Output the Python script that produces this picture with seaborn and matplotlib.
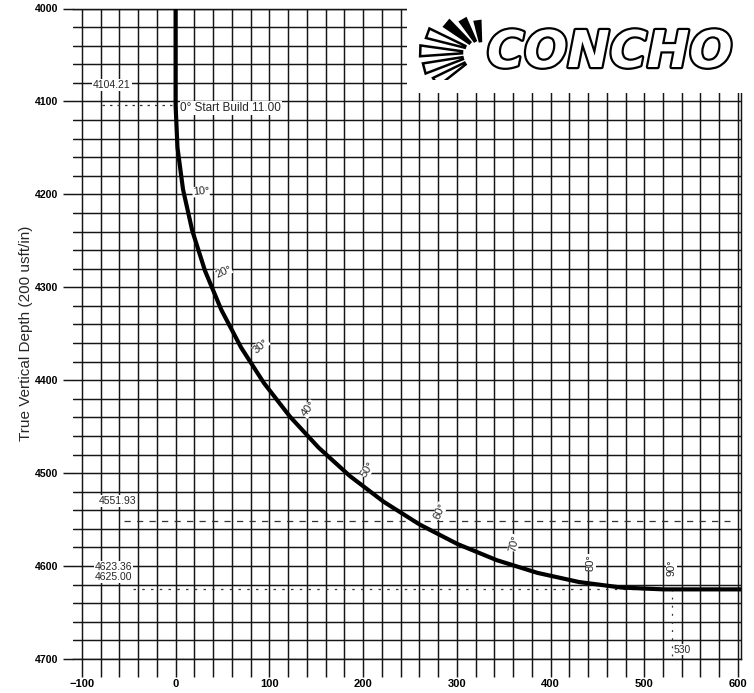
import numpy as np
import pandas as pd
import matplotlib
matplotlib.use("Agg")
import matplotlib.pyplot as plt
import matplotlib.patheffects as pe
from matplotlib.patches import Rectangle, Polygon
from matplotlib.ticker import MultipleLocator
import seaborn as sns

# ---------------- data ----------------
vsect = [0, 0, 1.98, 7.91, 17.75, 31.41, 48.80, 69.78, 94.19, 121.86, 152.56,
         186.06, 222.11, 260.43, 300.74, 342.72, 386.06, 430.42, 475.48, 520.87, 603]
tvd = [4000, 4104.21, 4149.61, 4194.66, 4239.02, 4282.36, 4324.34, 4364.65, 4402.97,
       4439.02, 4472.52, 4503.22, 4530.88, 4555.30, 4576.28, 4593.67, 4607.32,
       4617.17, 4623.10, 4625.08, 4625.08]

inc_labels = ["10°", "20°", "30°", "40°", "50°", "60°", "70°", "80°", "90°"]
inc_x = [27, 51, 91, 142, 205, 282, 361, 443, 529]
inc_y = [4197, 4283, 4363, 4431, 4496, 4541, 4575, 4596, 4602]
inc_rot = [5, 25, 42, 52, 58, 68, 78, 90, 90]

x_ticks = [-100, 0, 100, 200, 300, 400, 500, 600]
y_ticks = [4000, 4100, 4200, 4300, 4400, 4500, 4600, 4700]

kop_tvd = 4104.21
tgt_tvd = 4551.93
land_tvd = 4625.00
land_x = 530

df = pd.DataFrame({"vs": vsect, "tvd": tvd})

# ---------------- figure ----------------
sns.set_theme(style="white")
plt.rcParams["font.family"] = ["Liberation Sans", "DejaVu Sans"]

W, H = 754, 693
fig = plt.figure(figsize=(W / 100, H / 100), dpi=100)
fig.patch.set_facecolor("white")

left_px, right_px, top_px, bot_px = 72.5, 740.8, 8.5, 659
ax = fig.add_axes([left_px / W, 1 - bot_px / H, (right_px - left_px) / W,
                   (bot_px - top_px) / H])
ax.set_facecolor("white")
ax.set_xlim(-110, 603)
ax.set_ylim(4700, 4000)

gcol = "#151515"
ax.xaxis.set_minor_locator(MultipleLocator(20))
ax.yaxis.set_minor_locator(MultipleLocator(20))
ax.set_xticks(x_ticks)
ax.set_yticks(y_ticks)
ax.grid(which="both", color=gcol, lw=1.05)
ax.set_axisbelow(True)
ax.tick_params(axis="x", which="both", direction="out", length=13, width=1.05,
               color=gcol, pad=1.5, labelsize=8, labelcolor="black",
               bottom=True)
ax.tick_params(axis="y", which="major", direction="out", length=7.5, width=1.05,
               color=gcol, pad=2.5, labelsize=7.6, labelcolor="black", left=True)
ax.tick_params(axis="y", which="minor", length=0)
for lab in ax.get_xticklabels() + ax.get_yticklabels():
    lab.set_fontweight("bold")
for s in ["top", "right", "bottom"]:
    ax.spines[s].set_visible(True)
    ax.spines[s].set_color(gcol)
    ax.spines[s].set_linewidth(1.05)
ax.spines["left"].set_visible(False)

# reference lines
ax.plot([-78, 0], [kop_tvd, kop_tvd], color="#333333", lw=0.9, ls=(0, (2, 4)), zorder=3)
ax.plot([-55, 592], [tgt_tvd, tgt_tvd], color="#333333", lw=0.9, ls=(0, (5, 5)), zorder=3)
ax.plot([-45, land_x], [land_tvd, land_tvd], color="#333333", lw=0.9, ls=(0, (2, 5)), zorder=3)
ax.plot([land_x, land_x], [land_tvd, 4700], color="#333333", lw=0.9, ls=(0, (1.5, 5)), zorder=3)

# well path
sns.lineplot(data=df, x="vs", y="tvd", estimator=None, sort=False, color="black",
             lw=3.0, ax=ax, zorder=5)
ax.set_xlabel("")
ax.set_ylabel("True Vertical Depth (200 usft/in)", fontsize=11, labelpad=1.5)

# inclination labels
for t, x, y, r in zip(inc_labels, inc_x, inc_y, inc_rot):
    ax.text(x, y, t, fontsize=8, rotation=r, ha="center", va="center",
            rotation_mode="anchor", zorder=4.5,
            bbox=dict(boxstyle="square,pad=0.02", fc="white", ec="none"))

ann_kw = dict(fontsize=7.5, zorder=6)
ax.text(-68, 4082, "4104.21", ha="center", va="center",
        bbox=dict(boxstyle="square,pad=0.1", fc="white", ec="none"), **ann_kw)
ax.text(5, 4107, "0° Start Build 11.00", ha="left", va="center", fontsize=8.5,
        zorder=6, bbox=dict(boxstyle="square,pad=0.05", fc="white", ec="none"))
ax.text(-62, 4530, "4551.93", ha="center", va="center",
        bbox=dict(boxstyle="square,pad=0.1", fc="white", ec="none"), **ann_kw)
ax.text(-66, 4601, "4623.36", ha="center", va="center",
        bbox=dict(boxstyle="square,pad=0.05", fc="white", ec="none"), **ann_kw)
ax.text(-66, 4612, "4625.00", ha="center", va="center",
        bbox=dict(boxstyle="square,pad=0.05", fc="white", ec="none"), **ann_kw)
ax.text(541, 4690, "530", ha="center", va="center",
        bbox=dict(boxstyle="square,pad=0.05", fc="white", ec="none"), **ann_kw)

# blank area for the logo
ax.add_patch(Rectangle((247, 3985), 380, 4091 - 3985, transform=ax.transData,
                       fc="white", ec="none", clip_on=False, zorder=4))

# ---------------- logo ----------------
lx0, ly0, lw_, lh_ = 410, 8, 336, 72
lax = fig.add_axes([lx0 / W, 1 - (ly0 + lh_) / H, lw_ / W, lh_ / H])
lax.set_xlim(0, lw_)
lax.set_ylim(lh_, 0)
lax.axis("off")
cx, cy = 72, 45
rays = [(98, 12, 32, True), (120, 14, 38, True), (140, 16, 46, True),
        (160, 18, 58, False), (178, 20, 62, False), (195, 20, 60, False),
        (212, 20, 55, False)]
for a, r1, r2, filled in rays:
    ai1, ai2 = np.deg2rad(a - 3), np.deg2rad(a + 3)
    ao1, ao2 = np.deg2rad(a - 5), np.deg2rad(a + 5)
    pts = [(cx + r1 * np.cos(ai1), cy - r1 * np.sin(ai1)),
           (cx + r2 * np.cos(ao1), cy - r2 * np.sin(ao1)),
           (cx + r2 * np.cos(ao2), cy - r2 * np.sin(ao2)),
           (cx + r1 * np.cos(ai2), cy - r1 * np.sin(ai2))]
    lax.add_patch(Polygon(pts, closed=True, fc="black" if filled else "white",
                          ec="black", lw=1.8))
lax.text(77, 45, "CONCHO", fontsize=36.5, fontweight="bold", style="oblique",
         family="DejaVu Sans", ha="left", va="center", color="white",
         path_effects=[pe.Stroke(linewidth=3.2, foreground="black"), pe.Normal()])

fig.savefig("out.png", dpi=100, facecolor="white")
